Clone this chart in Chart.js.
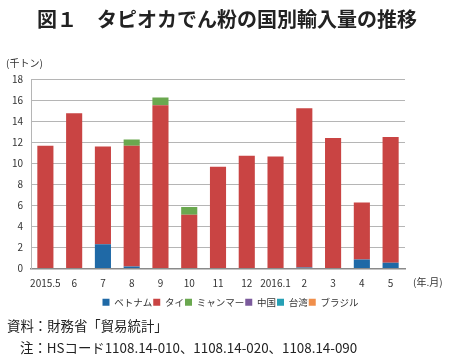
<!DOCTYPE html>
<html>
<head>
<meta charset="utf-8">
<script src="https://cdn.jsdelivr.net/npm/chart.js@4/dist/chart.umd.min.js"></script>
<style>
  body { margin: 0; background: #fff; }
  #wrap { width: 451px; height: 362px; }
</style>
</head>
<body>
<div id="wrap"><canvas id="myChart1" width="451" height="362"></canvas></div>
<script>
// data (千トン)
const months = ['2015.5', '6', '7', '8', '9', '10', '11', '12', '2016.1', '2', '3', '4', '5'];
const vietnam = [0, 0, 2.3, 0.2, 0, 0, 0, 0, 0, 0.1, 0, 0.86, 0.54];
const thai = [11.65, 14.75, 9.3, 11.45, 15.5, 5.1, 9.67, 10.7, 10.63, 15.13, 12.4, 5.42, 11.94];
const myanmar = [0, 0, 0, 0.6, 0.75, 0.75, 0, 0, 0, 0, 0, 0, 0];
const china = [0, 0, 0, 0, 0, 0, 0, 0, 0, 0, 0, 0, 0];
const taiwan = [0, 0, 0, 0, 0, 0, 0, 0, 0, 0, 0, 0, 0];
const brazil = [0, 0, 0, 0, 0, 0, 0, 0, 0, 0, 0, 0, 0];
const yTicks = [0, 2, 4, 6, 8, 10, 12, 14, 16, 18];

const jp = '"Noto Sans CJK JP", "Noto Sans", sans-serif';

// extra texts: title, unit, footnotes
const textPlugin = {
    id: 'texts',
    afterLayout(chart) {
        // legend sits a bit right of the plot centre in the original
        if (chart.legend) {
            chart.legend.left += 26;
            chart.legend.right += 26;
        }
    },
    afterDraw(chart) {
        const c = chart.ctx;
        c.save();
        c.fillStyle = '#222';
        c.textBaseline = 'middle';
        c.font = 'bold 20px ' + jp;
        c.textAlign = 'left';
        c.fillText('図１　タピオカでん粉の国別輸入量の推移', 37, 19);
        c.font = '10px ' + jp;
        c.fillStyle = '#333';
        c.fillText('(千トン)', 6, 63);
        c.fillText('(年.月)', 413, 282);
        c.font = '13.4px ' + jp;
        c.fillStyle = '#222';
        c.fillText('資料：財務省「貿易統計」', 7, 326);
        c.fillText('注：HSコード1108.14-010、1108.14-020、1108.14-090', 20, 348);
        c.restore();
    }
};

const ctx = document.getElementById('myChart1').getContext('2d');
const myChart = new Chart(ctx, {
    type: 'bar',
    data: {
        labels: months,
        datasets: [
            { label: 'ベトナム', data: vietnam, backgroundColor: '#1f69a6' },
            { label: 'タイ', data: thai, backgroundColor: '#c94443' },
            { label: 'ミャンマー', data: myanmar, backgroundColor: '#6aa84f' },
            { label: '中国', data: china, backgroundColor: '#7b5a9c' },
            { label: '台湾', data: taiwan, backgroundColor: '#26a0b5' },
            { label: 'ブラジル', data: brazil, backgroundColor: '#f08f4b' }
        ]
    },
    options: {
        responsive: false,
        animation: false,
        layout: { padding: { left: 4, right: 46, top: 79, bottom: 45 } },
        datasets: {
            bar: { categoryPercentage: 1, barPercentage: 0.56 }
        },
        plugins: {
            legend: {
                position: 'bottom',
                labels: {
                    boxWidth: 7,
                    boxHeight: 7,
                    padding: 1,
                    color: '#333',
                    font: { family: jp, size: 9.5 }
                }
            },
            tooltip: { enabled: false }
        },
        scales: {
            x: {
                stacked: true,
                grid: { display: false },
                border: { color: '#8a8a8a', width: 1.5 },
                afterFit(scale) { scale.height += 6; },
                ticks: { color: '#333', font: { family: jp, size: 10 }, maxRotation: 0, autoSkip: false, padding: 1 }
            },
            y: {
                stacked: true,
                min: 0,
                max: 18,
                afterBuildTicks(scale) {
                    scale.ticks = yTicks.map(v => ({ value: v }));
                },
                afterFit(scale) { scale.width = 27; },
                grid: { color: '#b5b5b5', lineWidth: 1, drawTicks: false },
                border: { color: '#b5b5b5' },
                ticks: { color: '#333', font: { family: jp, size: 10 }, padding: 8 }
            }
        }
    },
    plugins: [textPlugin]
});
</script>
</body>
</html>
